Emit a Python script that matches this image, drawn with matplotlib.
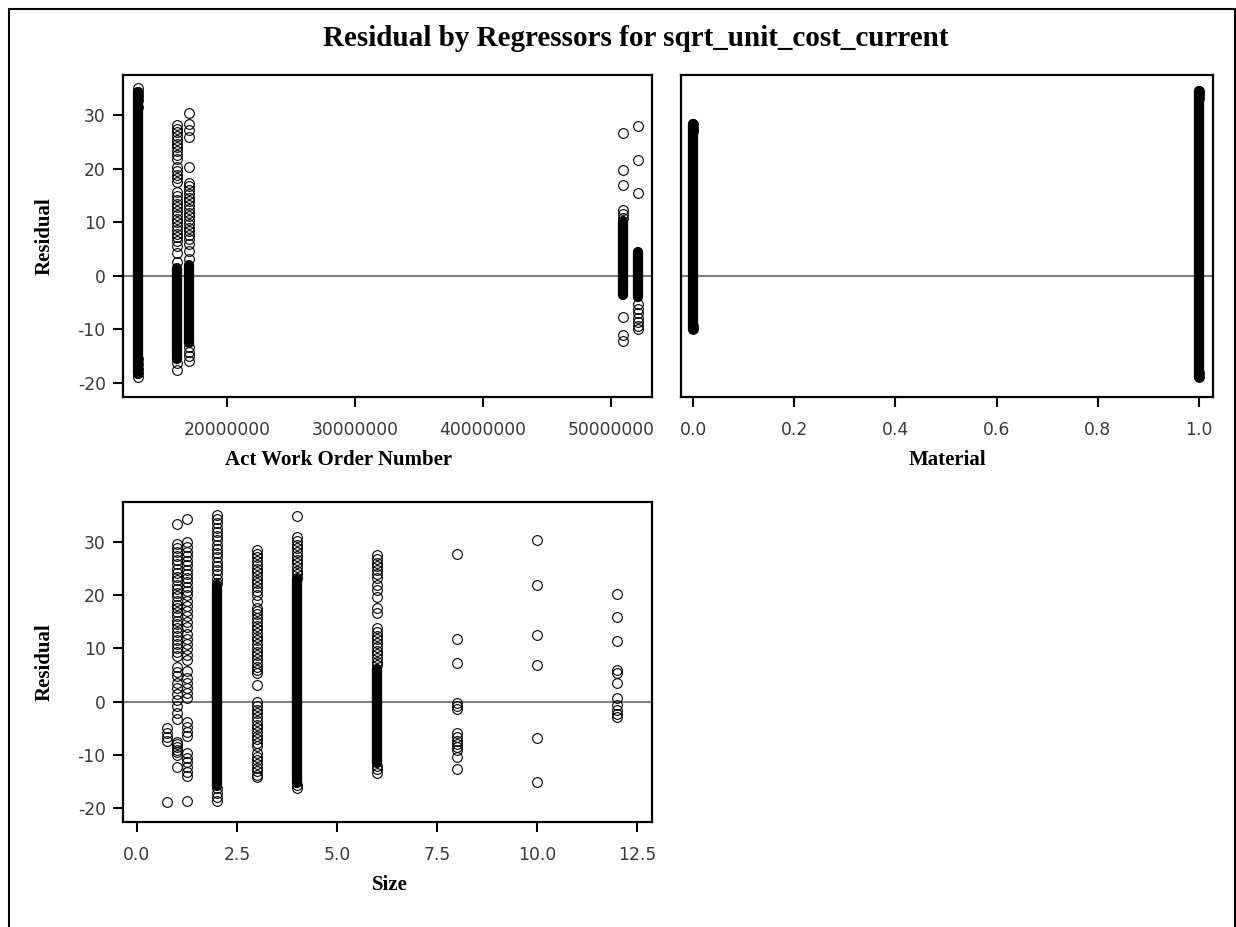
import matplotlib.pyplot as plt
from matplotlib.patches import Rectangle
from matplotlib.ticker import FormatStrFormatter

plt.rcParams['font.family'] = ['Liberation Serif', 'DejaVu Serif']
plt.rcParams['axes.unicode_minus'] = False

# ---- Act Work Order Number panel ----
awo_x = [13050000, 16100000, 17030000, 50940000, 52100000]
awo_pts = [
    [35.0, 34.3, 33.5, 32.8, 31.6, -15.5, -16.4, -17.3, -18.2, -18.9],
    [28.2, 27.5, 26.8, 26.1, 25.4, 24.7, 24.0, 23.3, 22.6, 21.9, 20.3, 19.6,
     18.9, 18.2, 17.5, 15.6, 14.9, 14.2, 13.5, 12.8, 12.1, 11.4, 10.7, 10.0,
     9.3, 8.6, 7.9, 7.2, 6.5, 5.6, 4.3, 2.6, -16.3, -17.6],
    [30.4, 28.3, 27.2, 26.0, 20.3, 17.4, 16.7, 16.0, 15.3, 14.6, 13.9, 13.2,
     12.5, 11.8, 11.1, 10.4, 9.7, 9.0, 8.3, 7.6, 6.9, 6.0, 4.6, 3.2,
     -13.3, -14.2, -15.0, -15.8],
    [26.7, 19.8, 17.0, 12.3, 11.6, 10.9, -7.7, -11.0, -12.1],
    [27.9, 21.7, 15.5, -5.3, -6.2, -7.0, -7.8, -8.6, -9.4, -10.0],
]
# dense runs of overlapping points (low, high)
awo_dense = [(-18.3, 34.4), (-15.6, 1.5), (-12.6, 2.0), (-3.6, 10.2), (-4.0, 4.4)]

# ---- Material panel ----
mat_x = [0.0, 1.0]
mat_pts = [
    [28.4, 27.7, 27.0, -9.3, -9.9],
    [34.6, 33.9, 33.2, -18.1, -18.8],
]
mat_dense = [(-9.9, 28.4), (-18.8, 34.6)]

# ---- Size panel ----
size_x = [0.75, 1.0, 1.25, 2.0, 3.0, 4.0, 6.0, 8.0, 10.0, 12.0]
size_pts = [
    [-5.0, -5.8, -6.6, -7.3, -18.8],
    [33.3, 29.6, 28.9, 28.1, 27.4, 26.6, 25.8, 25.0, 24.2, 23.5, 22.8, 22.0,
     21.2, 20.5, 19.8, 19.0, 18.2, 17.5, 16.8, 16.0, 15.2, 14.5, 13.8, 13.0,
     12.3, 11.5, 10.8, 10.0, 9.3, 8.5, 6.6, 5.6, 4.8, 3.5, 2.5, 1.5, 0.4,
     -0.8, -2.2, -3.2, -7.5, -8.0, -8.5, -9.0, -9.5, -10.1, -12.2],
    [34.4, 30.0, 29.0, 28.2, 27.4, 26.5, 25.6, 24.8, 24.0, 23.2, 22.4, 21.6,
     20.8, 20.0, 19.0, 18.0, 17.0, 16.0, 15.0, 14.0, 12.8, 11.8, 10.8, 9.8,
     8.8, 7.9, 5.8, 4.4, 3.5, 2.5, 1.6, 0.7, -3.9, -4.8, -5.7, -6.5, -9.6,
     -10.5, -11.4, -12.3, -13.2, -14.0, -18.6],
    [35.1, 34.3, 33.5, 32.7, 31.9, 31.1, 30.3, 29.5, 28.7, 27.9, 27.1, 26.3,
     25.5, 24.7, 23.9, 23.1, 22.3, -16.3, -17.1, -17.9, -18.7],
    [28.5, 27.8, 27.1, 26.4, 25.7, 25.0, 24.3, 23.6, 22.9, 22.2, 21.5, 20.8,
     20.0, 19.0, 17.5, 17.0, 16.4, 15.7, 15.0, 14.3, 13.6, 12.9, 12.2, 11.5,
     10.8, 10.1, 9.4, 8.7, 8.0, 7.3, 6.6, 5.9, 5.3, 3.2, -0.1, -0.8, -1.5,
     -2.2, -2.9, -3.6, -4.3, -5.0, -5.7, -6.4, -7.1, -7.8, -8.4, -9.6, -10.3,
     -11.0, -11.7, -12.4, -13.1, -13.8, -14.2],
    [34.9, 30.9, 30.2, 29.5, 28.8, 28.1, 27.4, 26.7, 26.0, 25.3, 24.6, 23.9,
     23.2, -15.6, -16.2],
    [27.5, 26.8, 26.1, 25.4, 24.7, 24.0, 23.3, 22.0, 21.0, 19.7, 17.5, 16.6,
     13.8, 13.1, 12.4, 11.7, 11.0, 10.3, 9.6, 8.9, 8.2, 7.5, 6.8, -12.0,
     -12.7, -13.4],
    [27.7, 11.7, 7.3, -0.2, -0.8, -1.4, -5.9, -6.6, -7.3, -8.0, -8.6, -9.1,
     -10.4, -12.6],
    [30.3, 22.0, 12.5, 6.8, -6.9, -15.1],
    [20.2, 15.9, 11.4, 5.9, 5.3, 3.5, 0.6, -0.6, -1.5, -2.4, -2.9],
]
size_dense = {2.0: (-15.8, 22.0), 4.0: (-15.3, 23.0), 6.0: (-11.5, 6.2)}

W, H = 1236, 927
fig = plt.figure(figsize=(W / 100, H / 100), dpi=100)

TICK_COLOR = '#3a3a3a'
LABEL_SIZE = 15


def make_axes(left, right, top, bottom):
    ax = fig.add_axes([left / W, 1 - bottom / H, (right - left) / W, (bottom - top) / H])
    for s in ax.spines.values():
        s.set_linewidth(1.6)
        s.set_color('black')
    ax.tick_params(direction='out', length=7.5, width=1.5, labelsize=12.3,
                   labelcolor=TICK_COLOR, color='black')
    ax.tick_params(axis='x', pad=9.5)
    ax.tick_params(axis='y', pad=5)
    ax.set_ylim(-22.6, 37.5)
    ax.set_yticks([-20, -10, 0, 10, 20, 30])
    ax.axhline(0, color='#808080', lw=1.5, zorder=1)
    return ax


def tick_font(ax):
    for lab in ax.get_xticklabels() + ax.get_yticklabels():
        lab.set_fontfamily('DejaVu Sans')


def draw_column(ax, x, pts, dense=None):
    if dense is not None:
        ax.plot([x, x], [dense[0], dense[1]], color='black', lw=7.4,
                solid_capstyle='round', zorder=2)
    ax.plot([x] * len(pts), pts, linestyle='none', marker='o', ms=7.0,
            mfc='none', mec='black', mew=0.8, zorder=3)


def xlabel(ax, text, xpix, left, right, bottom, ypix):
    ax.set_xlabel(text, fontsize=LABEL_SIZE, fontweight='bold', va='center', ha='center')
    ax.xaxis.set_label_coords((xpix - left) / (right - left), (bottom - ypix) / 322)


def ylabel(ax, text):
    ax.set_ylabel(text, fontsize=LABEL_SIZE, fontweight='bold', va='center', ha='center')
    ax.yaxis.set_label_coords((45 - 123) / 529, 0.5)


# Act Work Order Number
ax1 = make_axes(123, 652, 75, 397)
for x, pts, d in zip(awo_x, awo_pts, awo_dense):
    draw_column(ax1, x, pts, d)
ax1.set_xlim(11875000, 53200000)
ax1.set_xticks([20000000, 30000000, 40000000, 50000000])
ax1.xaxis.set_major_formatter(FormatStrFormatter('%d'))
xlabel(ax1, 'Act Work Order Number', 339, 123, 652, 397, 460)
ylabel(ax1, 'Residual')

# Material
ax2 = make_axes(681, 1213, 75, 397)
for x, pts, d in zip(mat_x, mat_pts, mat_dense):
    draw_column(ax2, x, pts, d)
ax2.set_xlim(-0.024, 1.028)
ax2.set_xticks([0.0, 0.2, 0.4, 0.6, 0.8, 1.0])
ax2.xaxis.set_major_formatter(FormatStrFormatter('%.1f'))
ax2.set_yticklabels([])
ax2.tick_params(axis='y', length=0)
xlabel(ax2, 'Material', 947, 681, 1213, 397, 460)

# Size
ax3 = make_axes(123, 652, 502, 822)
for x, pts in zip(size_x, size_pts):
    draw_column(ax3, x, pts, size_dense.get(x))
ax3.set_xlim(-0.35, 12.875)
ax3.set_xticks([0.0, 2.5, 5.0, 7.5, 10.0, 12.5])
ax3.xaxis.set_major_formatter(FormatStrFormatter('%.1f'))
xlabel(ax3, 'Size', 390, 123, 652, 822, 885)
ylabel(ax3, 'Residual')

for ax in (ax1, ax2, ax3):
    tick_font(ax)

fig.text(636 / W, 1 - 38 / H, 'Residual by Regressors for sqrt_unit_cost_current',
         ha='center', va='center', fontsize=21, fontweight='bold')

# outer frame
fig.add_artist(Rectangle((8.5 / W, -0.05), (1235 - 8.5) / W, 0.05 + 1 - 9.5 / H,
                         transform=fig.transFigure, fill=False, lw=1.5,
                         edgecolor='black'))

fig.savefig('out.png', dpi=100)
